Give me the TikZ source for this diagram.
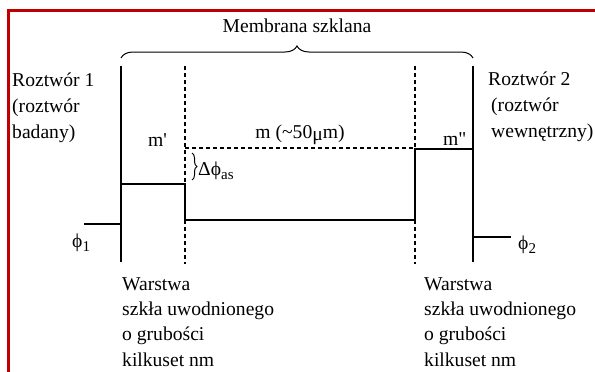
\documentclass[tikz,border=0pt]{standalone}
\usepackage{fontspec}
\setmainfont{Liberation Serif}
\usetikzlibrary{positioning, decorations.pathreplacing}
\definecolor{framered}{RGB}{192,0,0}
\newcommand{\lowidx}[1]{\raisebox{-0.25em}{\fontsize{15}{15}\selectfont #1}}

\begin{document}
\begin{tikzpicture}[
  x=1pt, y=-1pt,
  font=\fontsize{19.6}{26}\selectfont,
  txt/.style={inner sep=0pt, anchor=base west, align=left},
  wall/.style={line width=1.1pt},
  layer/.style={line width=1.1pt, dash pattern=on 4pt off 3pt},
  brc/.style={decorate, decoration={brace, amplitude=#1}, line width=1pt}
]
\useasboundingbox (0,0) rectangle (595,372);
\draw[line width=2.7pt, framered] (8.7,372) -- (8.7,10.7) -- (595,10.7);

\draw[brc=12pt] (121,58) -- (473,58);
\node[txt, anchor=base] (memb) at (297,32) {Membrana szklana};

\draw[wall] (121,66) -- (121,262);
\draw[wall] (473,66) -- (473,262);
\draw[layer] (185,66) -- (185,264);
\draw[layer] (415,66) -- (415,264);
\draw[layer] (185,148) -- (415,148);
\draw[wall] (121,184) -- (185,184) -- (185,220) -- (415,220) -- (415,149) -- (473,149);
\draw[wall] (84,224) -- (121,224);
\draw[wall] (473,237) -- (511,237);
\draw[brc=5pt] (192,153) -- (192,180);

\node[txt] (sol1) at (12,138) {Roztwór 1\\(roztwór\\badany)};
\node[txt] (sol2) at (488,137) {Roztwór 2\\\hspace{3pt}(roztwór\\\hspace{3pt}wewnętrzny)};
\node[txt] (mone) at (148,146) {m\textquotesingle};
\node[txt, anchor=base] (mmid) at (300,138) {m (\textasciitilde 50\raisebox{-2pt}{μ}m)};
\node[txt] (mtwo) at (443,145) {m\textquotedbl};
\node[txt] (dphi) at (198,175) {Δϕ\lowidx{as}};
\node[txt] (phione) at (72,247) {ϕ\lowidx{1}};
\node[txt] (phitwo) at (518,249) {ϕ\lowidx{2}};
\node[txt, font=\fontsize{19.6}{25.3}\selectfont] (layone) at (122,366)
  {Warstwa\\szkła uwodnionego\\o grubości\\kilkuset nm};
\node[txt, font=\fontsize{19.6}{25.3}\selectfont] (laytwo) at (424,366)
  {Warstwa\\szkła uwodnionego\\o grubości\\kilkuset nm};
\end{tikzpicture}
\end{document}
